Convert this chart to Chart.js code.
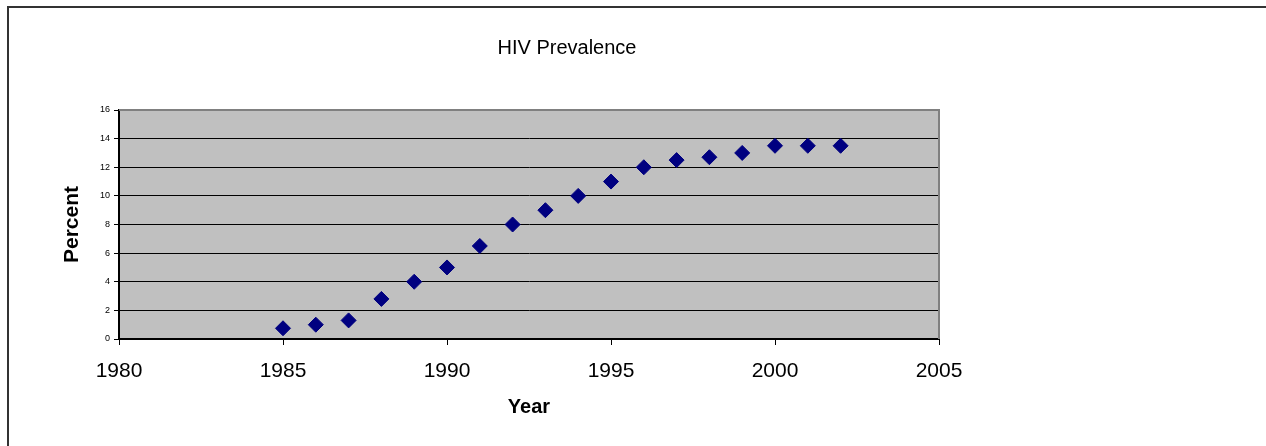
<!DOCTYPE html>
<html>
<head>
<meta charset="utf-8">
<title>HIV Prevalence</title>
<script src="https://cdn.jsdelivr.net/npm/chart.js@4.4.1/dist/chart.umd.min.js"></script>
<style>
  html, body { margin: 0; padding: 0; background: #fff; }
  canvas { display: block; }
</style>
</head>
<body>
<canvas id="hivChart" width="1266" height="446"></canvas>
<script>
// dati
var years = [1985, 1986, 1987, 1988, 1989, 1990, 1991, 1992, 1993, 1994, 1995, 1996, 1997, 1998, 1999, 2000, 2001, 2002];
var prevalence = [0.75, 1.0, 1.3, 2.8, 4.0, 5.0, 6.5, 8.0, 9.0, 10.0, 11.0, 12.0, 12.5, 12.7, 13.0, 13.5, 13.5, 13.5];

var chartTitle = 'HIV Prevalence';
var xTitle = 'Year';
var yTitle = 'Percent';
var xRange = [1980, 2005];
var yRange = [0, 16];

var points = years.map(function (year, i) {
  return { x: year, y: prevalence[i] };
});

// sfondo grigio, cornice e titolo
var excelLook = {
  id: 'excelLook',
  beforeDraw: function (chart) {
    var ctx = chart.ctx;
    var a = chart.chartArea;
    ctx.save();
    ctx.fillStyle = '#fff';
    ctx.fillRect(0, 0, chart.width, chart.height);
    ctx.fillStyle = '#C0C0C0';
    ctx.fillRect(a.left, a.top, a.right - a.left, a.bottom - a.top);
    // cornice pagina (solo sinistra e sopra)
    ctx.strokeStyle = '#333';
    ctx.lineWidth = 2;
    ctx.beginPath();
    ctx.moveTo(8, chart.height);
    ctx.lineTo(8, 7);
    ctx.lineTo(chart.width, 7);
    ctx.stroke();
    ctx.restore();
  },
  beforeDatasetsDraw: function (chart) {
    var ctx = chart.ctx;
    var a = chart.chartArea;
    ctx.save();
    ctx.strokeStyle = '#808080';
    ctx.lineWidth = 2;
    ctx.beginPath();
    ctx.moveTo(a.left, a.top);
    ctx.lineTo(a.right, a.top);
    ctx.lineTo(a.right, a.bottom);
    ctx.stroke();
    ctx.restore();
  },
  afterDraw: function (chart) {
    var ctx = chart.ctx;
    ctx.save();
    ctx.fillStyle = '#000';
    ctx.font = '20px "Liberation Sans", Arial, sans-serif';
    ctx.textAlign = 'center';
    ctx.textBaseline = 'middle';
    ctx.fillText(chartTitle, 567, 48);
    ctx.restore();
  }
};

var fontFamily = '"Liberation Sans", Arial, sans-serif';

var hivChart = new Chart(document.getElementById('hivChart'), {
  type: 'scatter',
  data: {
    datasets: [{
      label: chartTitle,
      data: points,
      pointStyle: 'rectRot',
      pointRadius: 7.5,
      pointBorderWidth: 1,
      backgroundColor: '#000080',
      borderColor: '#000080'
    }]
  },
  options: {
    responsive: false,
    animation: false,
    devicePixelRatio: 1,
    layout: { padding: { left: 50, right: 327, top: 110, bottom: 17 } },
    plugins: {
      legend: { display: false },
      tooltip: { enabled: false },
      title: { display: false }
    },
    scales: {
      x: {
        type: 'linear',
        min: xRange[0],
        max: xRange[1],
        afterFit: function (scale) { scale.height = 90; },
        ticks: {
          stepSize: 5,
          color: '#000',
          padding: 14,
          font: { family: fontFamily, size: 21 },
          callback: function (value) { return String(value); }
        },
        grid: {
          drawOnChartArea: false,
          drawTicks: true,
          tickLength: 6,
          tickColor: '#000',
          tickWidth: 1
        },
        border: { color: '#000', width: 2 },
        title: {
          display: true,
          text: xTitle,
          color: '#000',
          font: { family: fontFamily, size: 20, weight: 'bold' },
          padding: { top: 0, bottom: 10 }
        }
      },
      y: {
        min: yRange[0],
        max: yRange[1],
        afterFit: function (scale) { scale.width = 69; },
        ticks: {
          stepSize: 2,
          color: '#000',
          padding: 4,
          font: { family: fontFamily, size: 9 }
        },
        grid: {
          color: function (ctx) {
            return ctx.tick && ctx.tick.value === yRange[1] ? 'rgba(0,0,0,0)' : '#000';
          },
          lineWidth: 1,
          tickLength: 5,
          tickColor: '#000'
        },
        border: { color: '#000', width: 2 },
        title: {
          display: true,
          text: yTitle,
          color: '#000',
          font: { family: fontFamily, size: 21, weight: 'bold' },
          padding: { top: 10, bottom: 0 }
        }
      }
    }
  },
  plugins: [excelLook]
});
</script>
</body>
</html>
